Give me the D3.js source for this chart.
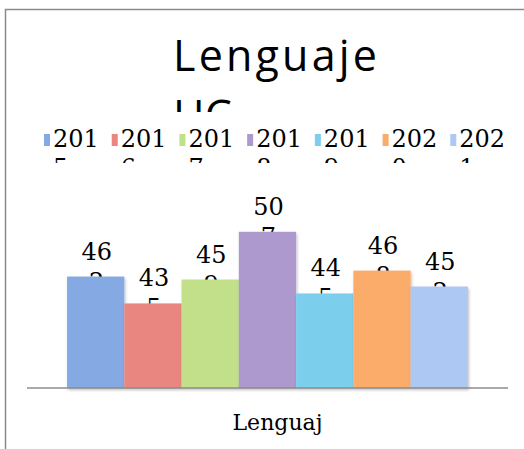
<!DOCTYPE html>
<meta charset="utf-8">
<body style="margin:0;background:#fff">
<script src="https://d3js.org/d3.v7.min.js"></script>
<script>

var width = 524, height = 449;

var categories = ["Lenguaj"];
var years = ["2015", "2016", "2017", "2018", "2019", "2020", "2021"];
var values = [462, 435, 459, 507, 445, 468, 452];
var colors = ["#84a9e3", "#ea8680", "#c2df8a", "#ae99cf",
              "#7bcfec", "#fbab6a", "#adc8f2"];
var titleLines = ["Lenguaje", "HC"];

var svg = d3.select("body").append("svg")
            .attr("width", width)
            .attr("height", height);

var defs = svg.append("defs");
defs.append("clipPath").attr("id", "legendClip")
    .append("rect").attr("x", 0).attr("y", 0).attr("width", width).attr("height", 163);
defs.append("clipPath").attr("id", "titleClip")
    .append("rect").attr("x", 0).attr("y", 0).attr("width", width).attr("height", 112);
var f = defs.append("filter").attr("id", "shadow")
    .attr("x", "-10%").attr("y", "-10%").attr("width", "130%").attr("height", "130%");
f.append("feDropShadow").attr("dx", 1).attr("dy", 2)
 .attr("stdDeviation", 1.5).attr("flood-color", "#000").attr("flood-opacity", 0.25);

// chart frame (only top and left visible)
svg.append("rect")
   .attr("x", 5.5).attr("y", 9.5)
   .attr("width", width + 20).attr("height", height + 20)
   .attr("fill", "#fff")
   .attr("stroke", "#8a8a8a")
   .attr("stroke-width", 1.5);

// title
svg.append("g").attr("clip-path", "url(#titleClip)")
   .selectAll("text")
   .data(titleLines)
   .enter().append("text")
   .attr("x", 173)
   .attr("y", function(d, i){ return 71 + i * 60; })
   .attr("font-family", "Open Sans, sans-serif")
   .attr("font-size", 43)
   .attr("fill", "#000")
   .attr("textLength", function(d, i){ return i == 0 ? 204 : null; })
   .attr("lengthAdjust", "spacing")
   .text(function(d){ return d; });

// legend
var lx = d3.scaleBand().domain(years).range([44, 518]);
var leg = svg.append("g").attr("clip-path", "url(#legendClip)")
             .selectAll("g")
             .data(years)
             .enter().append("g")
             .attr("transform", function(d){ return "translate(" + lx(d) + ",0)"; });

leg.append("rect")
   .attr("x", 0).attr("y", 134)
   .attr("width", 6).attr("height", 12)
   .attr("fill", function(d, i){ return colors[i]; });

var lt = leg.append("text")
   .attr("x", 9).attr("y", 147)
   .attr("font-family", "DejaVu Serif, serif")
   .attr("font-size", 24)
   .attr("fill", "#000");
lt.append("tspan").attr("x", 9).text(function(d){ return d.slice(0, 3); });
lt.append("tspan").attr("x", 9).attr("dy", 29).text(function(d){ return d.slice(3); });

// plot
var baseY = 388;
var x0 = d3.scaleBand().domain(categories).range([27, 508]).paddingOuter(0.1);
var x1 = d3.scaleBand().domain(years).range([0, x0.bandwidth()]);
var y = d3.scaleLinear().domain([350, 550]).range([baseY, 189]);

var g = svg.append("g")
           .attr("transform", "translate(" + x0(categories[0]) + ",0)");

// labels first, bars cover their second line
var labels = g.selectAll("text.val")
   .data(values)
   .enter().append("text")
   .attr("class", "val")
   .attr("text-anchor", "middle")
   .attr("font-family", "DejaVu Serif, serif")
   .attr("font-size", 24)
   .attr("fill", "#000")
   .attr("y", function(d){ return y(d) - 17; });
labels.append("tspan")
   .attr("x", function(d, i){ return x1(years[i]) + x1.bandwidth() / 2 + 1; })
   .text(function(d){ return String(d).slice(0, 2); });
labels.append("tspan")
   .attr("x", function(d, i){ return x1(years[i]) + x1.bandwidth() / 2 + 1; })
   .attr("dy", 30)
   .text(function(d){ return String(d).slice(2); });

g.selectAll("rect.bar")
   .data(values)
   .enter().append("rect")
   .attr("class", "bar")
   .attr("x", function(d, i){ return x1(years[i]); })
   .attr("y", function(d){ return y(d); })
   .attr("width", x1.bandwidth())
   .attr("height", function(d){ return baseY - y(d); })
   .attr("fill", function(d, i){ return colors[i]; })
   .attr("filter", "url(#shadow)");

// category axis
svg.append("line")
   .attr("x1", 27).attr("x2", 508)
   .attr("y1", baseY).attr("y2", baseY)
   .attr("stroke", "#8c8c8c")
   .attr("stroke-width", 1.5);

svg.selectAll("text.cat")
   .data(categories)
   .enter().append("text")
   .attr("class", "cat")
   .attr("x", function(d){ return x0(d) + x0.bandwidth() / 2 + 10; })
   .attr("y", 430)
   .attr("text-anchor", "middle")
   .attr("font-family", "DejaVu Serif, serif")
   .attr("font-size", 22)
   .attr("fill", "#000")
   .text(function(d){ return d; });

</script>
</body>
